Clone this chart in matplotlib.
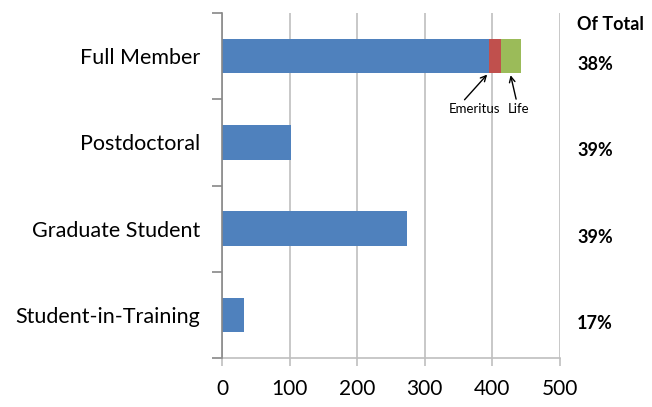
import numpy as np
import matplotlib.pyplot as plt
from matplotlib.transforms import blended_transform_factory

plt.rcParams['font.family'] = ['Lato', 'DejaVu Sans']

categories = ['Full Member', 'Postdoctoral', 'Graduate Student', 'Student-in-Training']
regular = [395, 102, 274, 33]
emeritus = [17, 0, 0, 0]
life = [30, 0, 0, 0]
pct_labels = ['38%', '39%', '39%', '17%']
xticks = [0, 100, 200, 300, 400, 500]

blue, red, green = '#4f81bd', '#c0504d', '#9bbb59'

fig = plt.figure(figsize=(6.52, 4.07), dpi=100)
ax = fig.add_axes([222 / 652, 1 - 358 / 407, 338 / 652, 345 / 407])

y = np.arange(len(categories))
reg = np.array(regular)
emr = np.array(emeritus)
lif = np.array(life)
ax.barh(y, reg, height=0.4, color=blue, zorder=3)
ax.barh(y, emr, left=reg, height=0.4, color=red, zorder=3)
ax.barh(y, lif, left=reg + emr, height=0.4, color=green, zorder=3)

ax.set_xlim(0, 500)
ax.set_ylim(len(categories) - 0.5, -0.5)
ax.set_xticks(xticks)
ax.set_xticklabels([str(t) for t in xticks], fontsize=15)
ax.xaxis.grid(True, color='#bfbfbf', linewidth=1.2, zorder=0)
ax.tick_params(axis='x', length=6, color='#bfbfbf', width=1.2, pad=9)

# category labels + separator ticks between them
ax.set_yticks(y)
ax.set_yticklabels(categories, fontsize=15.5)
ax.tick_params(axis='y', length=0, pad=16)
ax.set_yticks(np.arange(-0.5, len(categories)), minor=True)
ax.tick_params(axis='y', which='minor', length=7, color='#888888', width=1.2)

for side in ['top', 'right']:
    ax.spines[side].set_visible(False)
ax.spines['left'].set_color('#888888')
ax.spines['left'].set_linewidth(1.2)
ax.spines['left'].set_zorder(4)
ax.spines['bottom'].set_color('#bfbfbf')
ax.spines['bottom'].set_linewidth(1.2)

# right-hand percentages
fig.text(577 / 652, 1 - 25 / 407, 'Of Total', fontsize=13, fontweight='bold',
         ha='left', va='center')
trans = blended_transform_factory(fig.transFigure, ax.transData)
for i, p in enumerate(pct_labels):
    ax.text(577 / 652, i + 0.1, p, transform=trans, fontsize=13,
            fontweight='bold', ha='left', va='center')

# Emeritus / Life callouts
ax.text(374, 0.615, 'Emeritus', fontsize=9.5, ha='center', va='center')
ax.text(438, 0.615, 'Life', fontsize=9.5, ha='center', va='center')
ax.annotate('', xy=(395, 0.19), xytext=(356, 0.53),
            arrowprops=dict(arrowstyle='->', color='black', lw=1))
ax.annotate('', xy=(426, 0.19), xytext=(436, 0.53),
            arrowprops=dict(arrowstyle='->', color='black', lw=1))

fig.savefig('out.png', dpi=100)
